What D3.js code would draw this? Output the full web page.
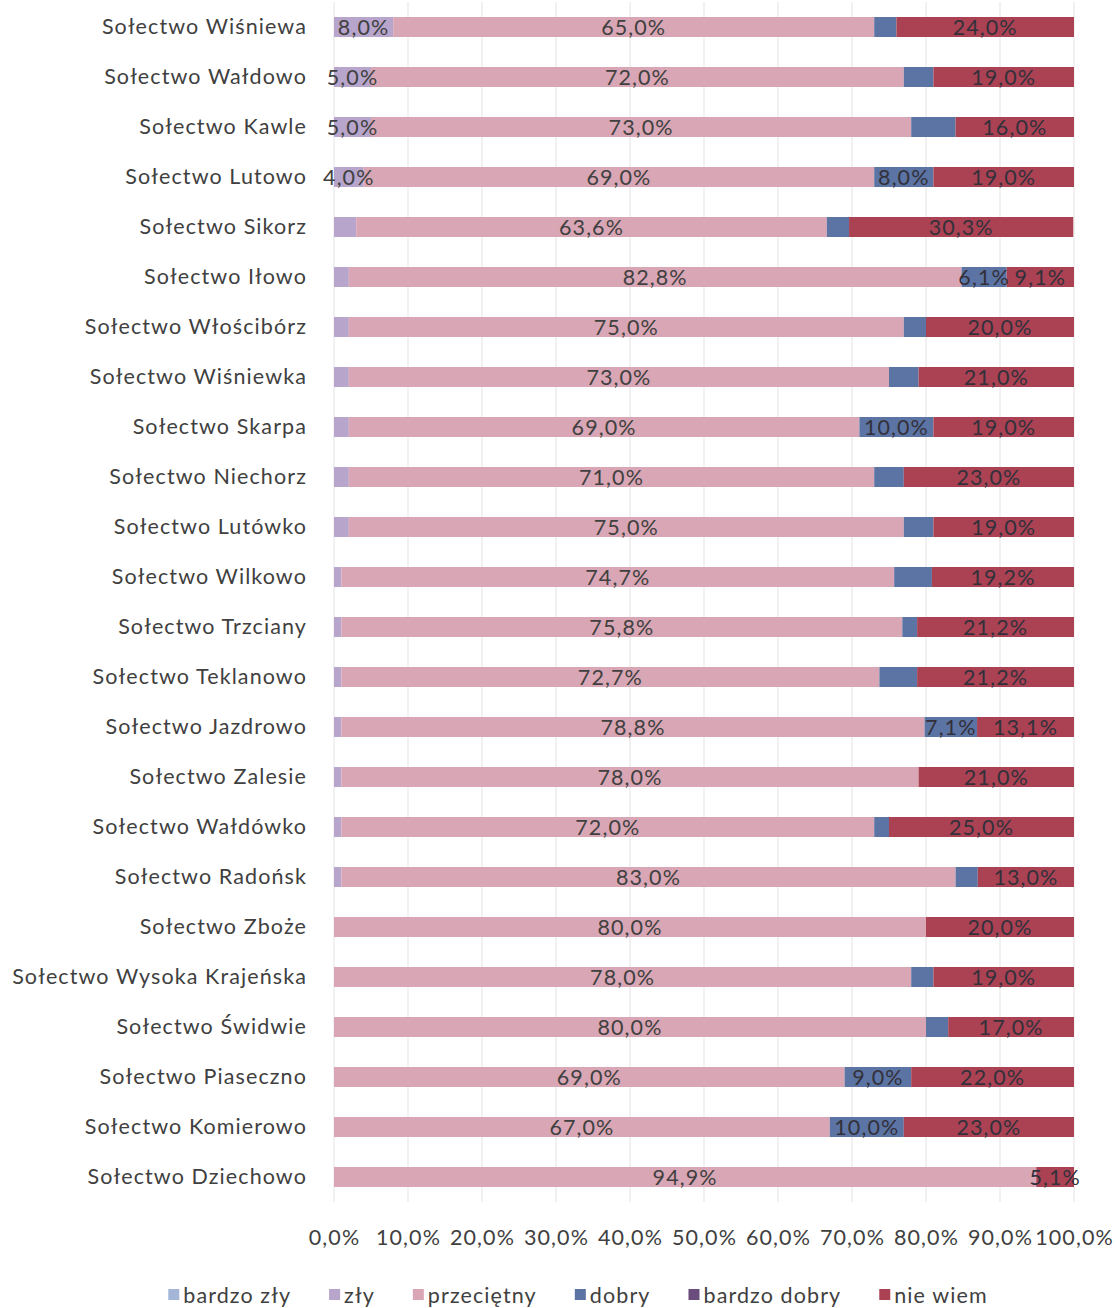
<!DOCTYPE html>
<html>
<head>
<meta charset="utf-8">
<script src="https://cdn.jsdelivr.net/npm/d3@7"></script>
<style>
  body { margin: 0; background: #fff; }
  text { font-family: Lato, "Open Sans", sans-serif; fill: #404040; letter-spacing: 1.1px; }
</style>
</head>
<body>
<div id="chart"></div>
<script>
// categories, top to bottom
var solectwa = ["Sołectwo Wiśniewa", "Sołectwo Wałdowo", "Sołectwo Kawle", "Sołectwo Lutowo",
  "Sołectwo Sikorz", "Sołectwo Iłowo", "Sołectwo Włościbórz", "Sołectwo Wiśniewka",
  "Sołectwo Skarpa", "Sołectwo Niechorz", "Sołectwo Lutówko", "Sołectwo Wilkowo",
  "Sołectwo Trzciany", "Sołectwo Teklanowo", "Sołectwo Jazdrowo", "Sołectwo Zalesie",
  "Sołectwo Wałdówko", "Sołectwo Radońsk", "Sołectwo Zboże", "Sołectwo Wysoka Krajeńska",
  "Sołectwo Świdwie", "Sołectwo Piaseczno", "Sołectwo Komierowo", "Sołectwo Dziechowo"];

var seriesNames = ["bardzo zły", "zły", "przeciętny", "dobry", "bardzo dobry", "nie wiem"];
var seriesColors = ["#a3b6d8", "#b7a5cb", "#d8a6b4", "#5b74a4", "#6a4d7c", "#aa4254"];

// values in %
var bardzoZly   = [0,0,0,0, 0,0,0,0, 0,0,0,0, 0,0,0,0, 0,0,0,0, 0,0,0,0];
var zly         = [8,5,5,4, 3.0,2.0,2,2, 2,2,2,1.0, 1.0,1.0,1.0,1, 1,1,0,0, 0,0,0,0];
var przecietny  = [65,72,73,69, 63.6,82.8,75,73, 69,71,75,74.7, 75.8,72.7,78.8,78, 72,83,80,78, 80,69,67,94.9];
var dobry       = [3,4,6,8, 3.0,6.1,3,4, 10,4,4,5.1, 2.0,5.1,7.1,0, 2,3,0,3, 3,9,10,0];
var bardzoDobry = [0,0,0,0, 0,0,0,0, 0,0,0,0, 0,0,0,0, 0,0,0,0, 0,0,0,0];
var nieWiem     = [24,19,16,19, 30.3,9.1,20,21, 19,23,19,19.2, 21.2,21.2,13.1,21, 25,13,20,19, 17,22,23,5.1];

// smallest value that still gets a data label, per series
var labelMin = [100, 4, 0, 6.1, 100, 0];

var xTicks = [0, 10, 20, 30, 40, 50, 60, 70, 80, 90, 100];

var allSeries = [bardzoZly, zly, przecietny, dobry, bardzoDobry, nieWiem];

var W = 1117, H = 1308;
var svg = d3.select("#chart").append("svg")
  .attr("width", W).attr("height", H);

var x = d3.scaleLinear().domain([0, 100]).range([334, 1074]);
var y = d3.scaleBand().domain(solectwa).range([2, 1202])
  .paddingInner(0.6).paddingOuter(0.3);

var fmt = function(v) { return v.toFixed(1).replace(".", ",") + "%"; };

// gridlines
svg.append("g").selectAll("line")
  .data(xTicks).enter().append("line")
    .attr("x1", function(d) { return x(d); })
    .attr("x2", function(d) { return x(d); })
    .attr("y1", 2).attr("y2", 1202)
    .style("stroke", "#e3e3e3").style("stroke-width", 1);

// stacked data
var rows = solectwa.map(function(name, i) {
  var row = { name: name };
  seriesNames.forEach(function(s, k) { row[s] = allSeries[k][i]; });
  return row;
});
var stacked = d3.stack().keys(seriesNames)(rows);

var layers = svg.append("g").selectAll("g")
  .data(stacked).enter().append("g")
    .style("fill", function(d, k) { return seriesColors[k]; });

layers.selectAll("rect")
  .data(function(d) { return d; })
  .enter().append("rect")
    .attr("x", function(d) { return x(d[0]); })
    .attr("y", function(d) { return y(d.data.name); })
    .attr("width", function(d) { return x(d[1]) - x(d[0]); })
    .attr("height", y.bandwidth());

// data labels, drawn on top of all bars
var labelG = svg.append("g");
stacked.forEach(function(layer, k) {
  var key = seriesNames[k];
  labelG.append("g").selectAll("text")
    .data(layer.filter(function(d) { return d.data[key] > 0 && d.data[key] >= labelMin[k]; }))
    .enter().append("text")
      .attr("x", function(d) { return x((d[0] + d[1]) / 2); })
      .attr("y", function(d) { return y(d.data.name) + y.bandwidth() / 2; })
      .attr("dy", "0.36em")
      .attr("text-anchor", "middle")
      .style("font-size", "21.5px")
      .style("fill", k >= 3 ? "#33303a" : "#404040")
      .text(function(d) { return fmt(d.data[key]); });
});

// y axis labels
var yAxis = svg.append("g")
  .attr("transform", "translate(307,0)")
  .call(d3.axisLeft(y).tickSize(0).tickPadding(0));
yAxis.select(".domain").remove();
yAxis.selectAll("text").style("font-size", "21.5px").style("fill", "#404040")
  .style("font-family", "Lato, 'Open Sans', sans-serif");

// x axis labels
var xAxis = svg.append("g")
  .attr("transform", "translate(0,1230)")
  .call(d3.axisBottom(x).tickValues(xTicks).tickSize(0).tickPadding(0)
    .tickFormat(function(d) { return fmt(d); }));
xAxis.select(".domain").remove();
xAxis.selectAll("text").style("font-size", "21.5px").style("fill", "#404040")
  .style("font-family", "Lato, 'Open Sans', sans-serif");

// legend
var legend = svg.append("g").attr("transform", "translate(0,1295)");
var items = legend.selectAll("g").data(seriesNames).enter().append("g");
items.append("rect")
  .attr("y", -6).attr("width", 11).attr("height", 11)
  .style("fill", function(d, k) { return seriesColors[k]; });
items.append("text")
  .attr("x", 15).attr("dy", "0.36em")
  .style("font-size", "21.5px")
  .text(function(d) { return d; });

var gap = 38;
var pos = 0, offsets = [];
items.each(function() {
  offsets.push(pos);
  pos += this.getBBox().width + gap;
});
var total = pos - gap;
var start = 578 - total / 2;
items.attr("transform", function(d, k) { return "translate(" + (start + offsets[k]) + ",0)"; });
</script>
</body>
</html>
